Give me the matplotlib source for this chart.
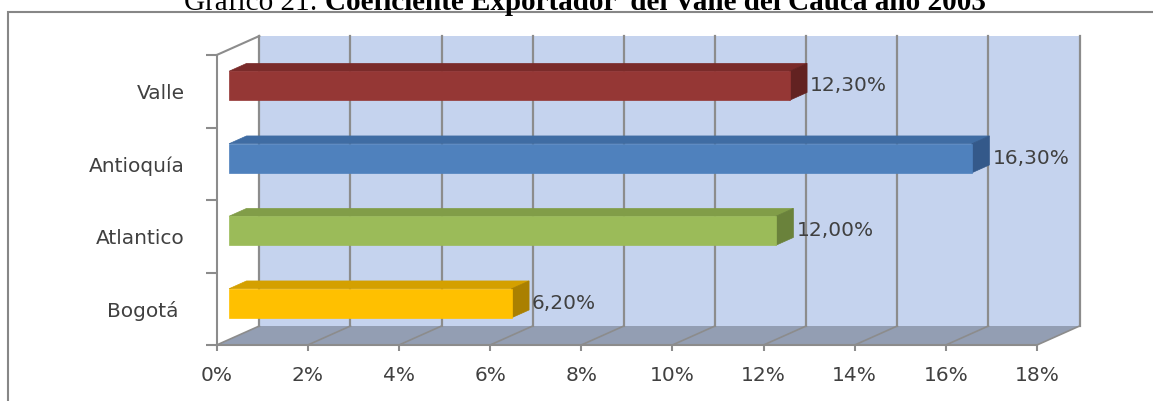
import matplotlib
matplotlib.use("Agg")
import matplotlib.pyplot as plt
from matplotlib.patches import Polygon, Rectangle
from matplotlib.lines import Line2D

# datos (de abajo hacia arriba)
regiones = ["Bogotá ", "Atlantico", "Antioquía", "Valle"]
valores = [6.2, 12.0, 16.3, 12.3]
ticks_x = [0, 2, 4, 6, 8, 10, 12, 14, 16, 18]
titulo_normal = "Gráfico 21: "
titulo_negrita = "Coeficiente Exportador  del Valle del Cauca año 2003"

# colores: frente, cara superior, extremo
colores = [("#FFC000", "#D4A000", "#AA8000"),
           ("#9BBB59", "#819D48", "#6A823B"),
           ("#4F81BD", "#3F6CA3", "#34598A"),
           ("#953735", "#7A2B2A", "#622221")]

W, H = 1153, 401
DX, DY = 42.6, 19.0      # profundidad del grafico 3D en pixeles
D0, D1 = 0.29, 0.70      # profundidad de las barras (fraccion)
GRIS = "#8C8C8C"
TXT = "#404040"
FS = 14.5

fig = plt.figure(figsize=(W / 100, H / 100), dpi=100)
ax = fig.add_axes([216.7 / W, 56 / H, (1037 - 216.7) / W, 290 / H])
ax.set_xlim(0, 18)
ax.set_ylim(0, len(regiones))
ax.patch.set_visible(False)

# pixel -> datos para el desplazamiento en profundidad
p0 = ax.transData.transform((0, 0))
p1 = ax.transData.transform((1, 1))
ddx = DX / (p1[0] - p0[0])
ddy = DY / (p1[1] - p0[1])


def shift(x, y, d):
    return (x + d * ddx, y + d * ddy)


ntop = len(regiones)
xmax = ticks_x[-1]

# pared del fondo
ax.add_patch(Polygon([shift(0, 0, 1), shift(xmax, 0, 1), shift(xmax, ntop, 1), shift(0, ntop, 1)],
                     closed=True, facecolor="#C5D3EE", edgecolor="none", zorder=0, clip_on=False))
# piso
ax.add_patch(Polygon([shift(0, 0, 0), shift(xmax, 0, 0), shift(xmax, 0, 1), shift(0, 0, 1)],
                     closed=True, facecolor="#939EB3", edgecolor="none", zorder=1, clip_on=False))

for t in ticks_x:
    a, b = shift(t, 0, 1), shift(t, ntop, 1)
    ax.add_line(Line2D([a[0], b[0]], [a[1], b[1]], color=GRIS, lw=1.6, zorder=2, clip_on=False))
    a, b = shift(t, 0, 0), shift(t, 0, 1)
    ax.add_line(Line2D([a[0], b[0]], [a[1], b[1]], color=GRIS, lw=1.2, zorder=2, clip_on=False))

# linea diagonal superior izquierda
a, b = shift(0, ntop, 0), shift(0, ntop, 1)
ax.add_line(Line2D([a[0], b[0]], [a[1], b[1]], color=GRIS, lw=1.5, zorder=2, clip_on=False))

# barras 3D
h = 0.2
for i, (v, (cf, ct, ce)) in enumerate(zip(valores, colores)):
    c = i + 0.5
    front = [shift(0, c - h, D0), shift(v, c - h, D0), shift(v, c + h, D0), shift(0, c + h, D0)]
    top = [shift(0, c + h, D0), shift(v, c + h, D0), shift(v, c + h, D1), shift(0, c + h, D1)]
    end = [shift(v, c - h, D0), shift(v, c + h, D0), shift(v, c + h, D1), shift(v, c - h, D1)]
    for pts, col in ((top, ct), (end, ce), (front, cf)):
        ax.add_patch(Polygon(pts, closed=True, facecolor=col, edgecolor=col, lw=0.5,
                             zorder=4, clip_on=False))
    etiqueta = f"{v:.2f}%".replace(".", ",")
    ax.annotate(etiqueta, (v, c), xytext=(D1 * DX + 3, D0 * DY), textcoords="offset pixels",
                ha="left", va="center", fontsize=FS, color=TXT, zorder=5,
                annotation_clip=False)

# ejes
for s in ["top", "right"]:
    ax.spines[s].set_visible(False)
for s in ["left", "bottom"]:
    ax.spines[s].set_color(GRIS)
    ax.spines[s].set_linewidth(1.5)
    ax.spines[s].set_zorder(3)

ax.set_xticks(ticks_x)
ax.set_xticklabels([f"{t}%" for t in ticks_x])
ax.tick_params(axis="x", length=4, width=1.5, color=GRIS, labelcolor=TXT,
               labelsize=FS, pad=11)

ax.set_yticks(range(ntop + 1))
ax.set_yticklabels([])
ax.tick_params(axis="y", which="major", length=8, width=1.5, color=GRIS)
ax.set_yticks([i + 0.5 for i in range(ntop)], minor=True)
ax.set_yticklabels(regiones, minor=True)
ax.tick_params(axis="y", which="minor", length=0, pad=23, labelcolor=TXT, labelsize=FS)

# marco del grafico
fig.add_artist(Rectangle((8 / W, -0.1), 1.2, (H - 12) / H + 0.1, transform=fig.transFigure,
                         fill=False, edgecolor="#878787", lw=1.5))

# titulo (cortado arriba, como en la imagen original)
yb = (H - 9.5) / H
t1 = fig.text(0, yb, titulo_normal, ha="right", va="baseline",
              family="Liberation Serif", fontsize=21)
t2 = fig.text(0, yb, titulo_negrita, ha="left", va="baseline",
              family="Liberation Serif", fontsize=21, fontweight="bold")
r = fig.canvas.get_renderer()
w1 = t1.get_window_extent(r).width
w2 = t2.get_window_extent(r).width
xs = (585 - (w1 + w2) / 2 + w1) / W
t1.set_x(xs)
t2.set_x(xs)

fig.savefig("out.png", dpi=100)
